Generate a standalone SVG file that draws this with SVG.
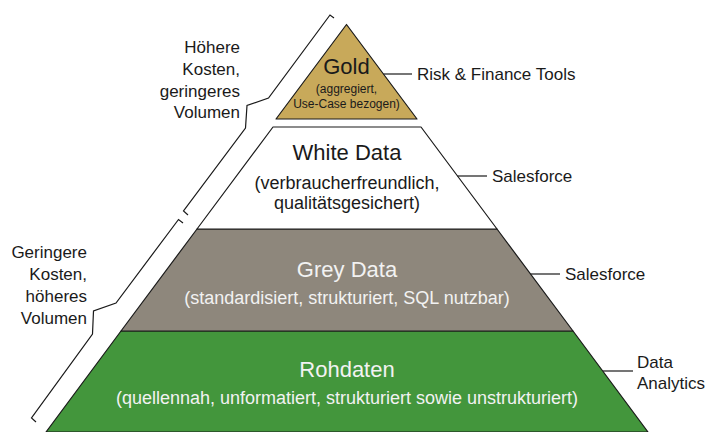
<svg xmlns="http://www.w3.org/2000/svg" width="710" height="432" viewBox="0 0 710 432">
  <style>
    .layer { stroke: #1a1a1a; stroke-width: 1.2; stroke-linejoin: round; }
    .gold { fill: #c8a95a; }
    .white { fill: #ffffff; }
    .grey { fill: #8e877c; }
    .green { fill: #43963c; }
    .brace, .link { fill: none; stroke: #1a1a1a; stroke-width: 1.2; stroke-linejoin: miter; }
    text { font-family: "Liberation Sans", Arial, sans-serif; }
    .title { font-size: 22px; text-anchor: middle; }
    .desc { font-size: 18px; text-anchor: middle; }
    .small { font-size: 12px; text-anchor: middle; }
    .side { font-size: 17px; fill: #1a1a1a; }
    .dark { fill: #1a1a1a; }
    .light { fill: #f2f2f2; }
  </style>

  <rect width="710" height="432" fill="#ffffff"/>

  <!-- pyramid layers, top to bottom -->
  <g id="rohdaten">
    <polygon class="layer green" points="121,331 573,331 648,432 46,432"/>
    <text class="title light" x="347" y="377">Rohdaten</text>
    <text class="desc light" x="347" y="404">(quellennah, unformatiert, strukturiert sowie unstrukturiert)</text>
  </g>

  <g id="grey-data">
    <polygon class="layer grey" points="197,229 497,229 573,331 121,331"/>
    <text class="title light" x="347" y="277">Grey Data</text>
    <text class="desc light" x="347" y="304">(standardisiert, strukturiert, SQL nutzbar)</text>
  </g>

  <g id="white-data">
    <polygon class="layer white" points="273,127 421,127 497,229 197,229"/>
    <text class="title dark" x="347" y="160">White Data</text>
    <text class="desc dark" x="347" y="189">(verbraucherfreundlich,</text>
    <text class="desc dark" x="347" y="209">qualitätsgesichert)</text>
  </g>

  <g id="gold">
    <polygon class="layer gold" points="346.5,24.5 417,119 276,119"/>
    <text class="title dark" x="346.5" y="74">Gold</text>
    <text class="small dark" x="346.5" y="93">(aggregiert,</text>
    <text class="small dark" x="346.5" y="108">Use-Case bezogen)</text>
  </g>

  <!-- cost / volume braces along the left flank -->
  <g id="brace-upper">
    <polyline class="brace" points="334,18 330,15 268.5,98 247,105.5 245.5,128 183.5,211 188,215"/>
    <text class="side" text-anchor="end" x="240" y="53">Höhere</text>
    <text class="side" text-anchor="end" x="240" y="75">Kosten,</text>
    <text class="side" text-anchor="end" x="240" y="97">geringeres</text>
    <text class="side" text-anchor="end" x="240" y="118">Volumen</text>
  </g>

  <g id="brace-lower">
    <polyline class="brace" points="183,223 178.5,219.5 116,303 93.5,311 92.5,334 31.5,418 36,422"/>
    <text class="side" text-anchor="end" x="87" y="258">Geringere</text>
    <text class="side" text-anchor="end" x="87" y="280">Kosten,</text>
    <text class="side" text-anchor="end" x="87" y="302">höheres</text>
    <text class="side" text-anchor="end" x="87" y="324">Volumen</text>
  </g>

  <!-- consumer labels -->
  <g id="connectors">
    <line class="link" x1="383.5" y1="74" x2="412" y2="74"/>
    <line class="link" x1="457.5" y1="176" x2="487" y2="176"/>
    <line class="link" x1="530.5" y1="274" x2="560" y2="274"/>
    <line class="link" x1="603" y1="371" x2="633" y2="371"/>
  </g>

  <g id="label-gold">
    <text class="side" x="417" y="80">Risk &amp; Finance Tools</text>
  </g>
  <g id="label-white">
    <text class="side" x="492" y="182">Salesforce</text>
  </g>
  <g id="label-grey">
    <text class="side" x="565" y="280">Salesforce</text>
  </g>
  <g id="label-green">
    <text class="side" x="637" y="368">Data</text>
    <text class="side" x="637" y="389">Analytics</text>
  </g>
</svg>
